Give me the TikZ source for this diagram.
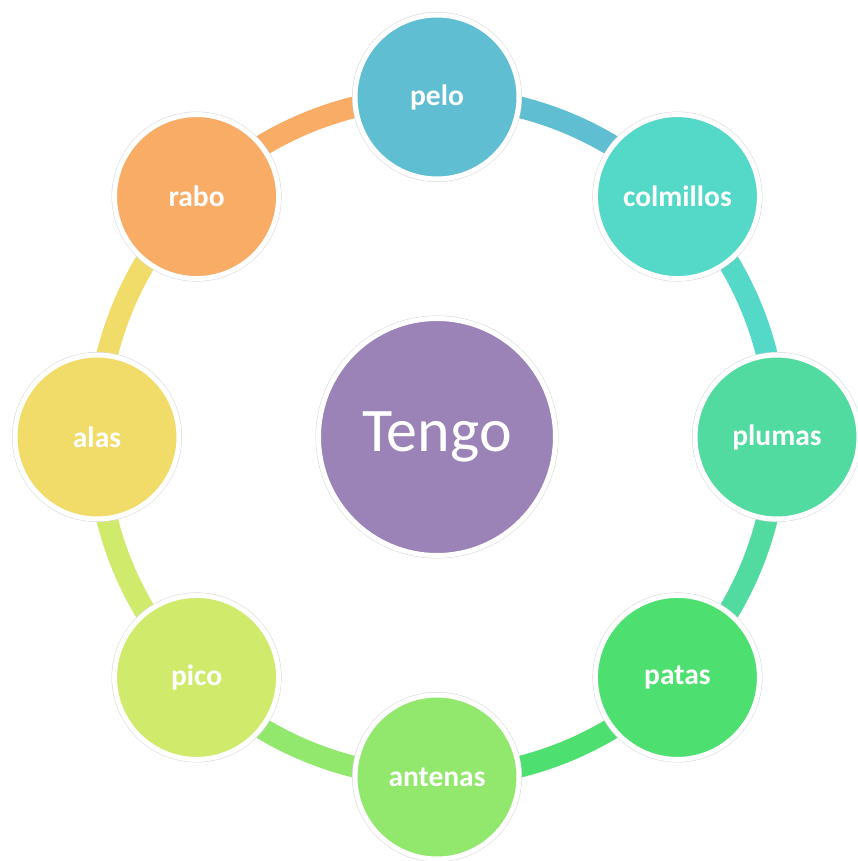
\documentclass[tikz,border=0pt]{standalone}
\usepackage{fontspec}
\setmainfont{Carlito}
\usetikzlibrary{backgrounds}
\definecolor{cPelo}{HTML}{5FBED2}
\definecolor{cColm}{HTML}{54D8C8}
\definecolor{cPlum}{HTML}{52DBA0}
\definecolor{cPata}{HTML}{4DE070}
\definecolor{cAnte}{HTML}{92E86C}
\definecolor{cPico}{HTML}{D0EB6C}
\definecolor{cAlas}{HTML}{F1DC6A}
\definecolor{cRabo}{HTML}{F9AC66}
\definecolor{cTengo}{HTML}{9B83B7}
\tikzset{
  x=1pt, y=1pt,
  bubble/.style={circle, inner sep=0pt, minimum size=164pt, fill=#1,
    draw=white, line width=5pt,
    preaction={draw=black!16, line width=6pt},
    text=white, font=\fontsize{29.5}{29.5}\selectfont\bfseries},
  hub/.style={circle, inner sep=0pt, minimum size=237pt, fill=cTengo,
    draw=white, line width=5pt,
    preaction={draw=black!16, line width=6pt},
    text=white, font=\fontsize{62}{62}\selectfont},
  band/.style={draw=#1, line width=21.5pt}
}
\begin{document}
\begin{tikzpicture}
\useasboundingbox (-437,-424) rectangle (420,437);
\node[hub] (tengo) at (0,0) {Tengo};
\node[bubble=cPelo] (pelo) at (90:340) {pelo};
\node[bubble=cColm] (colmillos) at (45:340) {colmillos};
\node[bubble=cPlum] (plumas) at (0:340) {plumas};
\node[bubble=cPata] (patas) at (-45:340) {patas};
\node[bubble=cAnte] (antenas) at (-90:340) {antenas};
\node[bubble=cPico] (pico) at (-135:340) {pico};
\node[bubble=cAlas] (alas) at (180:340) {alas};
\node[bubble=cRabo] (rabo) at (135:340) {rabo};
\begin{pgfonlayer}{background}
\draw[band=cPelo] (pelo.center) arc[start angle=90, end angle=45, radius=340];
\draw[band=cColm] (colmillos.center) arc[start angle=45, end angle=0, radius=340];
\draw[band=cPlum] (plumas.center) arc[start angle=0, end angle=-45, radius=340];
\draw[band=cPata] (patas.center) arc[start angle=-45, end angle=-90, radius=340];
\draw[band=cAnte] (antenas.center) arc[start angle=-90, end angle=-135, radius=340];
\draw[band=cPico] (pico.center) arc[start angle=-135, end angle=-180, radius=340];
\draw[band=cAlas] (alas.center) arc[start angle=180, end angle=135, radius=340];
\draw[band=cRabo] (rabo.center) arc[start angle=135, end angle=90, radius=340];
\end{pgfonlayer}
\end{tikzpicture}
\end{document}
